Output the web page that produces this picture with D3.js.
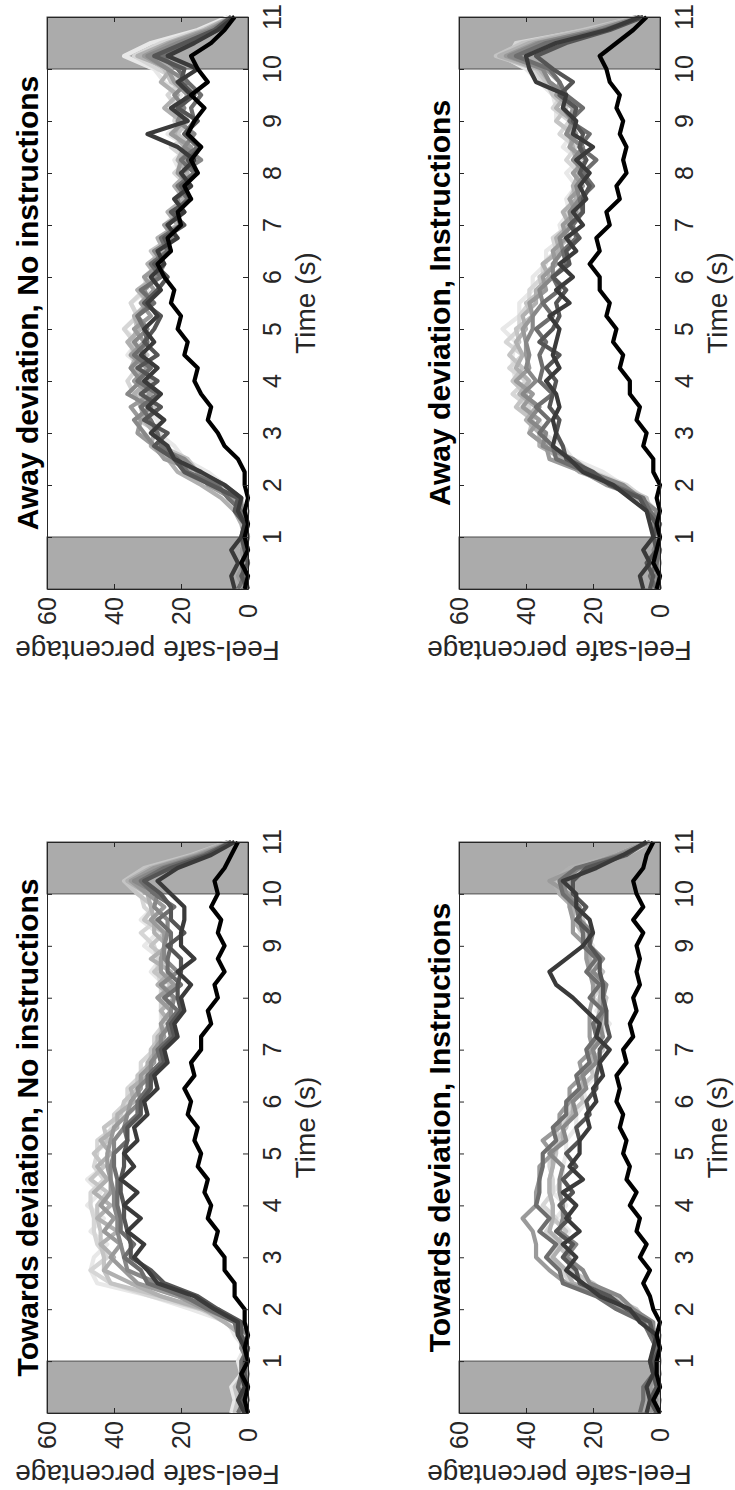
<!DOCTYPE html>
<html>
<head>
  <script src="https://d3js.org/d3.v7.min.js"></script>
  <style>
    body { margin: 0; background: #fff; }
    text { font-family: "Liberation Sans", Arial, sans-serif; fill: #262626; }
    .title { font-weight: bold; fill: #000; }
  </style>
</head>
<body>
<svg id="fig" width="735" height="1490"></svg>
<script>
// sample times (s), one value every 0.25 s
const times = [0,0.25,0.5,0.75,1,1.25,1.5,1.75,2,2.25,2.5,2.75,3,3.25,3.5,3.75,4,4.25,4.5,4.75,5,5.25,5.5,5.75,6,
  6.25,6.5,6.75,7,7.25,7.5,7.75,8,8.25,8.5,8.75,9,9.25,9.5,9.75,10,10.25,10.5,10.75,11];
const timeTicks = [1,2,3,4,5,6,7,8,9,10,11];
const valueTicks = [0,20,40,60];
const shadeSpans = [[0,1],[10,11]];
// one grey per participant line, black first
const grays = ['#000000','#3a3a3a','#555555','#6e6e6e','#888888','#9a9a9a','#b0b0b0','#c4c4c4','#d6d6d6','#e8e8e8'];

const awayNoInstr = [
  [1,0,2,0,1,0,1,0,1, 1,3,7,9,12,11,14,16, 15,19,18,21,20,23,22,25, 27,23,24,20,21,17,19,15, 17,14,18,16,13,17,12,15, 17,11,7,4],
  [4,5,3,5,2,1,3,2,7, 14,22,24,29,25,30,26,31, 27,32,28,31,27,30,26,29, 25,27,21,24,19,22,17,20, 16,21,30,18,23,17,21,15, 24,16,9,4],
  [0,2,0,1,2,1,4,3,11, 19,22,28,24,31,26,32,27, 33,27,31,28,26,31,27,24, 28,23,25,19,23,17,20,15, 18,14,19,15,21,16,20,19, 28,19,10,5],
  [3,1,2,0,1,0,2,6,9, 18,21,26,27,29,32,27,33, 29,34,30,31,33,28,32,26, 29,24,26,20,22,18,21,16, 20,15,19,16,17,14,18,21, 26,17,9,4],
  [0,1,0,1,0,1,2,2,7, 15,19,28,31,34,29,36,32, 35,31,34,30,33,29,31,27, 25,28,22,24,20,21,18,20, 14,19,16,21,19,22,18,24, 30,21,11,5],
  [1,3,1,2,0,1,1,5,12, 14,25,28,33,32,35,29,34, 30,35,31,34,29,32,28,31, 26,27,22,25,19,22,17,21, 20,17,23,19,21,18,22,24, 31,23,12,4],
  [0,2,0,1,1,2,4,8,14, 21,24,29,28,31,32,34,30, 35,33,36,32,34,29,33,27, 30,25,27,21,24,19,22,18, 21,19,22,20,25,21,26,23, 33,24,13,5],
  [1,0,2,1,0,1,0,4,8, 15,18,26,27,32,28,33,29, 34,30,35,33,34,30,33,28, 26,29,23,21,23,19,20,16, 19,17,21,18,20,17,23,25, 30,20,10,4],
  [0,1,1,0,2,1,3,4,11, 17,20,27,26,33,30,34,36, 33,35,34,37,33,35,31,30, 27,28,22,24,19,22,18,22, 18,23,17,22,21,24,20,27, 34,26,14,5],
  [3,1,0,2,0,1,1,5,7, 12,19,22,27,27,31,30,34, 31,36,33,37,33,35,30,31, 27,27,22,25,21,21,20,20, 22,18,24,19,23,20,25,28, 37,29,15,6]
];

const awayInstr = [
  [1,0,2,1,0,1,0,1,0, 2,2,5,4,7,6,9,9, 12,11,14,13,16,15,18,18, 21,18,19,15,16,12,13,10, 11,10,12,11,13,12,15,16, 18,13,8,4],
  [5,6,3,5,2,3,4,9,14, 23,27,32,31,32,30,31,34, 30,32,31,30,33,27,31,26, 30,25,28,23,26,22,24,21, 25,20,26,25,29,28,37,39, 40,31,16,6],
  [3,2,4,1,2,1,4,6,15, 20,28,29,31,30,33,32,31, 34,30,36,32,30,31,28,32, 27,28,24,27,23,23,21,24, 22,24,23,26,25,30,26,32, 37,28,15,5],
  [1,3,1,0,2,0,3,5,14, 22,31,32,36,33,37,32,36, 35,36,34,37,32,35,30,32, 28,29,25,26,23,24,20,23, 19,24,21,27,23,28,30,33, 43,34,17,5],
  [0,1,1,2,0,2,1,6,11, 21,26,35,34,39,36,41,37, 40,39,40,38,38,35,36,32, 32,29,30,26,27,24,25,22, 26,23,28,26,29,28,33,35, 45,36,19,6],
  [2,0,1,0,2,0,4,5,16, 23,33,34,39,36,41,38,43, 39,40,40,41,38,39,34,35, 31,32,28,29,25,27,23,26, 22,27,25,27,26,31,30,34, 46,37,18,5],
  [0,2,0,1,0,2,1,7,13, 24,29,36,36,40,37,42,39, 43,41,43,40,41,37,37,33, 35,30,31,27,29,25,26,24, 25,26,27,26,31,28,33,36, 48,39,21,7],
  [1,0,2,0,1,0,3,4,13, 20,30,34,39,38,43,40,44, 41,45,42,43,38,40,35,36, 31,32,27,29,24,27,25,25, 24,27,26,31,28,32,34,37, 49,41,23,7],
  [0,1,0,2,0,1,1,5,10, 20,26,33,35,39,39,44,40, 45,41,46,42,42,39,39,35, 35,31,32,27,28,25,25,24, 28,25,30,27,32,29,35,38, 45,43,22,6],
  [1,0,1,0,2,0,3,4,11, 17,26,29,35,36,42,38,43, 44,44,43,47,42,42,38,38, 34,34,29,30,27,28,25,28, 24,29,26,31,31,32,36,40, 47,40,20,6]
];

const towardsNoInstr = [
  [0,1,0,2,0,1,0,1,1, 4,4,7,7,10,9,12,11, 13,12,15,14,16,15,18,17, 19,16,17,14,14,11,12,9, 10,7,9,7,9,8,11,9, 10,7,5,3],
  [1,3,1,2,0,1,3,3,10, 16,27,30,34,31,36,32,37, 33,38,34,37,33,34,30,31, 27,28,24,25,21,22,19,20, 17,21,16,20,20,19,19,23, 27,21,11,4],
  [0,2,0,1,1,0,2,2,9, 15,25,29,35,35,36,37,37, 38,38,37,37,36,36,32,32, 29,29,25,26,22,23,20,21, 21,20,20,24,19,23,23,26, 31,23,12,5],
  [3,1,3,2,2,0,3,4,12, 19,30,32,37,34,38,38,39, 39,39,40,40,36,37,33,33, 30,30,26,27,23,24,21,25, 20,24,24,23,23,27,22,28, 32,25,13,5],
  [0,1,0,1,0,2,0,4,9, 20,27,36,37,38,39,39,40, 40,41,41,40,40,37,36,32, 33,29,29,26,26,23,23,22, 26,21,25,25,24,24,28,27, 34,26,14,4],
  [2,0,1,0,1,0,3,3,13, 21,33,37,41,38,43,40,44, 41,41,42,42,41,40,36,35, 32,32,28,28,25,26,23,27, 22,26,26,25,25,29,25,30, 35,28,15,5],
  [0,2,0,1,0,2,2,7,13, 26,35,43,40,44,39,45,41, 46,42,45,41,44,39,39,34, 35,30,30,27,27,23,26,22, 27,23,29,24,28,28,29,30, 36,29,16,6],
  [4,3,4,1,2,0,3,4,14, 26,41,43,43,44,44,45,45, 42,47,43,46,42,43,38,37, 33,33,29,29,26,26,23,27, 23,28,24,29,25,31,28,33, 37,31,17,6],
  [1,3,1,1,0,2,1,7,14, 29,41,47,42,45,46,46,47, 47,43,46,45,45,40,40,36, 36,32,32,28,28,25,26,26, 26,27,27,28,32,27,31,32, 36,30,16,5],
  [5,4,5,2,3,1,4,6,17, 29,45,47,46,42,47,43,48, 44,48,43,46,41,41,37,36, 32,32,29,29,25,26,26,25, 25,29,26,31,27,32,28,33, 33,28,14,5]
];

const towardsInstr = [
  [0,2,0,1,1,0,1,0,2, 3,5,3,6,4,7,6,9, 7,10,9,11,10,12,11,13, 12,13,10,11,8,9,7,8, 6,7,6,7,5,8,5,7, 8,5,4,2],
  [4,3,4,2,3,2,1,6,9, 18,23,28,25,29,24,28,25, 29,23,27,24,24,21,22,19, 20,17,18,15,19,18,22,26, 31,33,28,23,20,21,25,25, 29,19,11,4],
  [1,3,1,2,2,0,2,3,10, 15,24,25,29,26,31,27,30, 26,29,25,28,24,25,21,22, 19,19,18,18,15,16,16,17, 17,18,18,21,21,25,22,26, 26,22,10,4],
  [6,5,5,2,3,1,3,5,13, 19,29,30,34,31,36,33,37, 36,36,35,35,31,32,28,28, 24,25,21,22,19,20,17,21, 18,22,19,23,23,24,25,29, 30,25,11,4],
  [0,2,0,1,1,0,2,2,8, 12,21,23,28,25,30,29,29, 30,30,29,33,28,29,25,26, 22,23,19,20,17,18,17,17, 16,20,17,21,20,24,24,28, 29,24,12,3],
  [3,1,3,1,2,0,2,3,12, 17,28,33,37,37,38,41,37, 37,36,36,32,35,30,30,27, 27,23,24,20,21,21,21,20, 20,21,22,22,26,26,27,27, 33,24,13,4],
  [1,0,2,0,1,1,3,4,11, 16,26,28,32,29,33,32,32, 33,33,32,32,29,29,26,26, 23,23,20,21,18,19,18,18, 17,21,21,22,23,26,26,30, 32,27,13,4],
  [0,2,0,1,0,1,0,4,7, 15,20,27,27,31,28,32,32, 33,33,32,31,31,28,27,23, 24,20,21,17,18,17,17,16, 20,17,21,21,22,23,27,27, 32,23,13,3],
  [3,1,2,1,2,0,3,4,13, 18,27,29,33,30,34,31,35, 32,32,33,33,30,31,27,27, 23,24,20,21,18,19,16,20, 17,21,18,22,22,23,24,28, 29,23,10,3],
  [1,3,1,1,0,2,1,5,8, 16,21,26,26,30,27,31,28, 32,29,29,28,28,25,25,22, 23,19,20,17,18,15,19,16, 20,17,21,20,24,24,25,26, 30,22,13,4]
];

// figure is shown rotated a quarter turn: time runs upwards, percentage runs leftwards
const panels = [
  { title: 'Away deviation, No instructions',    data: awayNoInstr,    left: 47,  right: 248, top: 17,  bottom: 589 },
  { title: 'Away deviation, Instructions',       data: awayInstr,      left: 459, right: 660, top: 17,  bottom: 589 },
  { title: 'Towards deviation, No instructions', data: towardsNoInstr, left: 47,  right: 248, top: 842, bottom: 1413 },
  { title: 'Towards deviation, Instructions',    data: towardsInstr,   left: 459, right: 660, top: 842, bottom: 1413 }
];

const svg = d3.select('#fig');
svg.append('rect').attr('width', 735).attr('height', 1490).attr('fill', '#fff');

panels.forEach(p => {
  const t = d3.scaleLinear().domain([0, 11]).range([p.bottom, p.top]);
  const v = d3.scaleLinear().domain([0, 60]).range([p.right, p.left]);
  const g = svg.append('g');

  // grey bands before start and after end
  g.selectAll('.shade')
    .data(shadeSpans)
    .enter()
    .append('rect')
    .attr('class', 'shade')
    .attr('x', v(60))
    .attr('width', v(0) - v(60))
    .attr('y', d => t(d[1]))
    .attr('height', d => t(d[0]) - t(d[1]))
    .attr('fill', '#ababab')
    .attr('stroke', '#4d4d4d')
    .attr('stroke-width', 1);

  const line = d3.line()
    .x(d => v(d[1]))
    .y(d => t(d[0]));

  const series = p.data.map((vals, i) => ({ color: grays[i], pts: vals.map((y, j) => [times[j], y]) }));

  // light lines first, black on top
  g.selectAll('.ln')
    .data(series.slice().reverse())
    .enter()
    .append('path')
    .attr('class', 'ln')
    .attr('d', d => line(d.pts))
    .attr('fill', 'none')
    .attr('stroke', d => d.color)
    .attr('stroke-width', 4.2)
    .attr('stroke-linejoin', 'round');

  // box with inward ticks
  const axes = [
    { ax: d3.axisLeft(t).tickValues(timeTicks),   tr: `translate(${p.right},0)` },
    { ax: d3.axisRight(t).tickValues(timeTicks),  tr: `translate(${p.left},0)` },
    { ax: d3.axisTop(v).tickValues(valueTicks),   tr: `translate(0,${p.bottom})` },
    { ax: d3.axisBottom(v).tickValues(valueTicks), tr: `translate(0,${p.top})` }
  ];
  axes.forEach(a => {
    const ag = g.append('g')
      .attr('transform', a.tr)
      .call(a.ax.tickSize(5).tickSizeOuter(0).tickFormat(''));
    ag.selectAll('path, line').attr('stroke', '#262626');
    ag.selectAll('text').remove();
  });

  // time tick labels (right of box)
  g.selectAll('.tlab')
    .data(timeTicks)
    .enter()
    .append('text')
    .attr('class', 'tlab')
    .attr('transform', d => `translate(${p.right + 33},${t(d)}) rotate(-90)`)
    .attr('text-anchor', 'middle')
    .attr('font-size', 25)
    .text(d => d);

  // percentage tick labels (below box)
  g.selectAll('.vlab')
    .data(valueTicks)
    .enter()
    .append('text')
    .attr('class', 'vlab')
    .attr('transform', d => `translate(${v(d) + 9},${p.bottom + 22}) rotate(-90)`)
    .attr('text-anchor', 'middle')
    .attr('font-size', 25)
    .text(d => d);

  g.append('text')
    .attr('transform', `translate(${p.right + 67},${(p.top + p.bottom) / 2}) rotate(-90)`)
    .attr('text-anchor', 'middle')
    .attr('font-size', 28)
    .text('Time (s)');

  g.append('text')
    .attr('transform', `translate(${(p.left + p.right) / 2},${p.bottom + 52}) rotate(180)`)
    .attr('text-anchor', 'middle')
    .attr('font-size', 28)
    .text('Feel-safe percentage');

  g.append('text')
    .attr('class', 'title')
    .attr('transform', `translate(${p.left - 9},${(p.top + p.bottom) / 2}) rotate(-90)`)
    .attr('text-anchor', 'middle')
    .attr('font-size', 30)
    .text(p.title);
});
</script>
</body>
</html>
